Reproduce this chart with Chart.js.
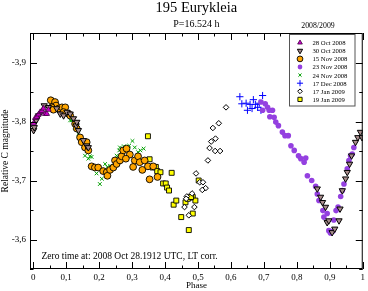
<!DOCTYPE html>
<html>
<head>
<meta charset="utf-8">
<script src="https://cdn.jsdelivr.net/npm/chart.js@4.4.0/dist/chart.umd.min.js"></script>
<style>
  html, body { margin: 0; padding: 0; background: #fff; }
</style>
</head>
<body>
<canvas id="chart" width="368" height="291"></canvas>
<script>
// phase / relative C magnitude
const oct28 = [[0.001,-3.797],[0.006,-3.806],[0.011,-3.808],[0.016,-3.812],[0.021,-3.816],[0.026,-3.818],
  [0.031,-3.822],[0.036,-3.813],[0.041,-3.813],[0.046,-3.820]];
const oct30 = [[0.001,-3.785],[0.003,-3.790],[0.009,-3.802],[0.016,-3.810],[0.033,-3.827],[0.046,-3.824],
  [0.071,-3.822],[0.082,-3.813],[0.092,-3.810],[0.102,-3.816],[0.112,-3.813],[0.122,-3.805],[0.130,-3.793],
  [0.132,-3.799],[0.137,-3.785],[0.152,-3.768],[0.162,-3.759],[0.167,-3.756],
  [0.862,-3.686],[0.872,-3.672],[0.878,-3.663],[0.887,-3.655],[0.892,-3.629],[0.897,-3.632],[0.907,-3.612],
  [0.915,-3.618],[0.928,-3.632],[0.931,-3.652],[0.938,-3.683],[0.948,-3.703],[0.953,-3.714],[0.960,-3.728],
  [0.966,-3.742],[0.978,-3.765],[0.985,-3.773],[0.993,-3.782],[0.998,-3.773]];
const nov15 = [[0.053,-3.836],[0.066,-3.833],[0.069,-3.827],[0.056,-3.824],[0.061,-3.820],[0.077,-3.822],
  [0.087,-3.824],[0.097,-3.824],[0.092,-3.816],[0.107,-3.813],[0.112,-3.810],[0.127,-3.796],[0.132,-3.788],
  [0.142,-3.773],[0.147,-3.765],[0.162,-3.765],[0.157,-3.756],[0.167,-3.751],[0.177,-3.724],[0.187,-3.722],
  [0.197,-3.722],[0.212,-3.716],[0.223,-3.714],[0.225,-3.708],[0.233,-3.718],[0.243,-3.722],[0.248,-3.734],
  [0.253,-3.728],[0.263,-3.734],[0.268,-3.741],[0.273,-3.751],[0.283,-3.754],[0.293,-3.744],[0.281,-3.737],
  [0.303,-3.723],[0.308,-3.734],[0.318,-3.741],[0.323,-3.731],[0.338,-3.734],[0.331,-3.718],[0.348,-3.724],
  [0.353,-3.702],[0.364,-3.724],[0.377,-3.706]];
const nov23 = [[0.691,-3.833],[0.696,-3.819],[0.704,-3.830],[0.711,-3.824],[0.716,-3.819],[0.726,-3.819],
  [0.718,-3.808],[0.731,-3.807],[0.736,-3.799],[0.744,-3.793],[0.756,-3.782],[0.764,-3.776],[0.774,-3.776],
  [0.782,-3.759],[0.792,-3.751],[0.805,-3.742],[0.812,-3.737],[0.822,-3.731],[0.827,-3.738],[0.832,-3.708],
  [0.845,-3.700],[0.857,-3.690],[0.862,-3.677],[0.867,-3.666],[0.879,-3.649],[0.882,-3.638],[0.892,-3.644],
  [0.897,-3.615],[0.902,-3.611],[0.909,-3.614],[0.912,-3.633],[0.919,-3.649],[0.925,-3.655],[0.933,-3.673],
  [0.938,-3.683],[0.943,-3.694],[0.953,-3.720],[0.958,-3.734],[0.963,-3.742],[0.968,-3.745],[0.973,-3.756]];
const nov24 = [[0.112,-3.802],[0.117,-3.802],[0.127,-3.790],[0.137,-3.779],[0.152,-3.759],[0.157,-3.742],
  [0.162,-3.751],[0.167,-3.737],[0.172,-3.741],[0.177,-3.740],[0.192,-3.712],[0.202,-3.694],[0.208,-3.703],
  [0.218,-3.728],[0.225,-3.723],[0.233,-3.725],[0.243,-3.722],[0.253,-3.742],[0.261,-3.751],[0.263,-3.756],
  [0.271,-3.748],[0.275,-3.758],[0.281,-3.754],[0.291,-3.759],[0.301,-3.767],[0.308,-3.756],[0.318,-3.748],
  [0.325,-3.751],[0.335,-3.754]];
const dec17 = [[0.627,-3.842],[0.633,-3.830],[0.646,-3.831],[0.650,-3.819],[0.658,-3.829],[0.664,-3.822],
  [0.668,-3.837],[0.674,-3.829],[0.681,-3.824],[0.686,-3.831],[0.691,-3.819],[0.696,-3.844]];
const jan17 = [[0.585,-3.824],[0.563,-3.797],[0.545,-3.789],[0.553,-3.771],[0.540,-3.766],[0.535,-3.755],
  [0.552,-3.750],[0.567,-3.750],[0.530,-3.734],[0.494,-3.712],[0.505,-3.697],[0.515,-3.697],[0.523,-3.687],
  [0.513,-3.684],[0.482,-3.678],[0.466,-3.673],[0.459,-3.655],[0.472,-3.641],[0.489,-3.655],[0.464,-3.669]];
const jan19 = [[0.348,-3.775],[0.353,-3.736],[0.362,-3.722],[0.372,-3.723],[0.376,-3.716],[0.386,-3.714],
  [0.394,-3.695],[0.402,-3.695],[0.406,-3.688],[0.412,-3.683],[0.420,-3.713],[0.426,-3.659],[0.434,-3.666],
  [0.449,-3.638],[0.472,-3.616],[0.484,-3.644],[0.476,-3.671],[0.484,-3.672],[0.492,-3.666],[0.502,-3.700],
  [0.462,-3.663],[0.469,-3.669],[0.479,-3.672]];

const seriesLabels = ['28 Oct 2008', '30 Oct 2008', '15 Nov 2008', '23 Nov 2008',
  '24 Nov 2008', '17 Dec 2008', '17 Jan 2009', '19 Jan 2009'];
const seriesData = [oct28, oct30, nov15, nov23, nov24, dec17, jan17, jan19];
const xTicks = [0, 0.1, 0.2, 0.3, 0.4, 0.5, 0.6, 0.7, 0.8, 0.9, 1];
const yTicks = [-3.9, -3.8, -3.7, -3.6];

const styles = [
  { pointStyle: 'triangle', radius: 3.2, rotation: 0,   bg: '#cc00cc', border: '#400040', bw: 0.8 },
  { pointStyle: 'triangle', radius: 3.6, rotation: 180, bg: '#a88c8c', border: '#000000', bw: 1 },
  { pointStyle: 'circle',   radius: 3.4, rotation: 0,   bg: '#ffa500', border: '#000000', bw: 0.9 },
  { pointStyle: 'circle',   radius: 2.8, rotation: 0,   bg: '#9440e0', border: '#9440e0', bw: 0 },
  { pointStyle: 'crossRot', radius: 2.6, rotation: 0,   bg: '#00a000', border: '#00a000', bw: 1 },
  { pointStyle: 'cross',    radius: 3.6, rotation: 0,   bg: '#0000ff', border: '#0000ff', bw: 1 },
  { pointStyle: 'rectRot',  radius: 2.8, rotation: 0,   bg: '#ffffff', border: '#000000', bw: 1 },
  { pointStyle: 'rect',     radius: 3.5, rotation: 0,   bg: '#ffff00', border: '#000000', bw: 0.9 }
];

const serif = '"Liberation Serif", "DejaVu Serif", serif';
const comma = v => String(v).replace('.', ',');

// titles, note, frame with inward ticks, and the legend box
const decorations = {
  id: 'decorations',
  afterDatasetsDraw(chart) {
    const { ctx, chartArea: a, scales: { x, y } } = chart;
    ctx.save();
    ctx.strokeStyle = '#000';
    ctx.lineWidth = 1;
    ctx.strokeRect(a.left + 0.5, a.top + 0.5, a.right - a.left - 1, a.bottom - a.top - 1);
    ctx.beginPath();
    for (let i = 0; i <= 20; i++) {
      const px = Math.round(x.getPixelForValue(i * 0.05)) + 0.5;
      const len = i % 2 ? 3.5 : 7;
      ctx.moveTo(px, a.bottom); ctx.lineTo(px, a.bottom - len);
      ctx.moveTo(px, a.top); ctx.lineTo(px, a.top + len);
    }
    for (let i = 0; i <= 7; i++) {
      const py = Math.round(y.getPixelForValue(-3.9 + i * 0.05)) + 0.5;
      const len = i % 2 ? 3.5 : 7;
      ctx.moveTo(a.left, py); ctx.lineTo(a.left + len, py);
      ctx.moveTo(a.right, py); ctx.lineTo(a.right - len, py);
    }
    ctx.stroke();

    ctx.fillStyle = '#000';
    ctx.textBaseline = 'alphabetic';
    ctx.textAlign = 'center';
    ctx.font = '14.5px ' + serif;
    ctx.fillText('195 Eurykleia', (a.left + a.right) / 2, 12);
    ctx.font = '10px ' + serif;
    ctx.fillText('P=16.524 h', (a.left + a.right) / 2, 27);
    ctx.font = '7.8px ' + serif;
    ctx.fillText('2008/2009', 318, 28);
    ctx.textAlign = 'left';
    ctx.font = '9.5px ' + serif;
    ctx.fillText('Zero time at: 2008 Oct 28.1912 UTC, LT corr.', 41.5, 259);

    // legend
    const bx = 289.5, by = 34.5, bw = 65.5, bh = 71.5;
    ctx.fillStyle = '#fff';
    ctx.fillRect(bx, by, bw, bh);
    ctx.strokeStyle = '#555';
    ctx.lineWidth = 1;
    ctx.strokeRect(bx, by, bw, bh);
    ctx.font = '6.7px ' + serif;
    chart.data.datasets.forEach((ds, i) => {
      const s = styles[i];
      const cy = 42.7 + i * 8.1;
      ctx.fillStyle = s.bg;
      ctx.strokeStyle = s.border;
      ctx.lineWidth = s.bw || 1;
      Chart.helpers.drawPoint(ctx, { pointStyle: s.pointStyle, radius: s.radius * 0.85, rotation: s.rotation, borderWidth: s.bw }, 300, cy);
      ctx.fillStyle = '#000';
      ctx.fillText(ds.label, 312.5, cy + 2.4);
    });
    ctx.restore();
  }
};

new Chart(document.getElementById('chart'), {
  type: 'scatter',
  data: {
    datasets: seriesData.map((pts, i) => ({
      label: seriesLabels[i],
      data: pts.map(p => ({ x: p[0], y: p[1] })),
      pointStyle: styles[i].pointStyle,
      pointRadius: styles[i].radius,
      pointRotation: styles[i].rotation,
      backgroundColor: styles[i].bg,
      borderColor: styles[i].border,
      borderWidth: styles[i].bw,
      pointHoverRadius: styles[i].radius
    }))
  },
  options: {
    responsive: false,
    animation: false,
    devicePixelRatio: 1,
    layout: { padding: { top: 33, right: 4.5, left: 0, bottom: 0 } },
    plugins: { legend: { display: false }, tooltip: { enabled: false } },
    scales: {
      x: {
        type: 'linear', min: -0.01, max: 1.0,
        grid: { display: false, drawTicks: false, tickLength: 0 }, border: { display: false },
        afterBuildTicks: s => { s.ticks = xTicks.map(v => ({ value: v })); },
        afterFit: s => { s.height = 22; },
        ticks: { color: '#000', padding: 3, font: { family: serif, size: 9 }, callback: comma, maxRotation: 0 },
        title: { display: true, text: 'Phase', color: '#000', padding: 0, font: { family: serif, size: 9 } }
      },
      y: {
        type: 'linear', min: -3.95, max: -3.55, reverse: true,
        grid: { display: false, drawTicks: false, tickLength: 0 }, border: { display: false },
        afterBuildTicks: s => { s.ticks = yTicks.map(v => ({ value: v })); },
        afterFit: s => { s.width = 30; },
        ticks: { color: '#000', padding: 4, font: { family: serif, size: 9 }, callback: comma },
        title: { display: true, text: 'Relative C magnitude', color: '#000', padding: 0, font: { family: serif, size: 9.5 } }
      }
    }
  },
  plugins: [decorations]
});
</script>
</body>
</html>
